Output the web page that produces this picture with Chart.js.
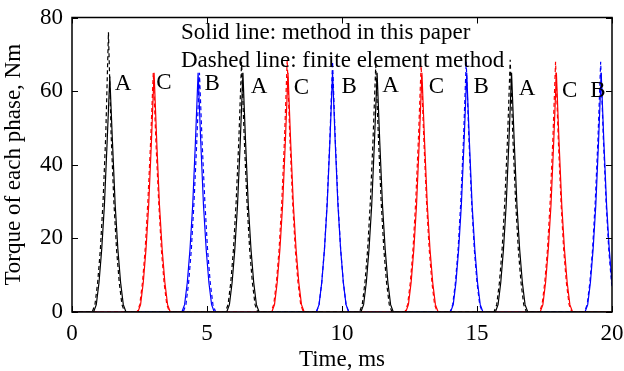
<!DOCTYPE html>
<html>
<head>
    <title>Torque of each phase</title>
    <style>
        body { margin: 0; background: white; }
        #wrap { width: 624px; height: 371px; }
    </style>
</head>
<body>
    <div id="wrap"><canvas id="chart"></canvas></div>
    <script src="https://cdn.jsdelivr.net/npm/chart.js"></script>
    <script>
        // Data: [time ms, torque Nm]
        const aSolid = [[0,0],
            [0.8,0],[0.9,2],[1.0,8],[1.1,17],[1.2,29],[1.3,46],[1.4,64],[1.5,46],[1.6,29],[1.7,17],[1.8,8],[1.9,2],[2.0,0],
            [5.73,0],[5.83,2],[5.93,8],[6.03,17],[6.13,29],[6.23,46],[6.33,65],[6.43,46],[6.53,29],[6.63,17],[6.73,8],[6.83,2],[6.93,0],
            [10.7,0],[10.8,2],[10.9,8],[11.0,17],[11.1,29],[11.2,46],[11.3,65],[11.4,46],[11.5,29],[11.6,17],[11.7,8],[11.8,2],[11.9,0],
            [15.68,0],[15.78,2],[15.88,8],[15.98,17],[16.08,29],[16.18,46],[16.28,65],[16.38,46],[16.48,29],[16.58,17],[16.68,8],[16.78,2],[16.88,0],
            [20,0]];
        const aDashed = [[0,0],
            [0.75,0],[0.85,2],[0.95,8],[1.05,17],[1.15,30],[1.25,48],[1.35,76],[1.45,48],[1.55,30],[1.65,17],[1.75,8],[1.85,2],[1.95,0],
            [5.68,0],[5.78,2],[5.88,8],[5.98,17],[6.08,30],[6.18,47],[6.28,68],[6.38,47],[6.48,30],[6.58,17],[6.68,8],[6.78,2],[6.88,0],
            [10.65,0],[10.75,2],[10.85,8],[10.95,17],[11.05,30],[11.15,47],[11.25,67],[11.35,47],[11.45,30],[11.55,17],[11.65,8],[11.75,2],[11.85,0],
            [15.63,0],[15.73,2],[15.83,8],[15.93,17],[16.03,30],[16.13,47],[16.23,68.5],[16.33,47],[16.43,30],[16.53,17],[16.63,8],[16.73,2],[16.83,0],
            [20,0]];
        const cSolid = [[0,0],
            [2.44,0],[2.54,2],[2.64,8],[2.74,17],[2.84,29],[2.94,46],[3.04,65],[3.14,46],[3.24,29],[3.34,17],[3.44,8],[3.54,2],[3.64,0],
            [7.4,0],[7.5,2],[7.6,8],[7.7,17],[7.8,29],[7.9,46],[8.0,65],[8.1,46],[8.2,29],[8.3,17],[8.4,8],[8.5,2],[8.6,0],
            [12.36,0],[12.46,2],[12.56,8],[12.66,17],[12.76,29],[12.86,46],[12.96,65],[13.06,46],[13.16,29],[13.26,17],[13.36,8],[13.46,2],[13.56,0],
            [17.34,0],[17.44,2],[17.54,8],[17.64,17],[17.74,29],[17.84,46],[17.94,65],[18.04,46],[18.14,29],[18.24,17],[18.34,8],[18.44,2],[18.54,0],
            [20,0]];
        const cDashed = [[0,0],
            [2.41,0],[2.51,2],[2.61,8],[2.71,17],[2.81,30],[2.91,46],[3.01,65],[3.11,46],[3.21,30],[3.31,17],[3.41,8],[3.51,2],[3.61,0],
            [7.37,0],[7.47,2],[7.57,8],[7.67,17],[7.77,30],[7.87,47],[7.97,68.5],[8.07,47],[8.17,30],[8.27,17],[8.37,8],[8.47,2],[8.57,0],
            [12.33,0],[12.43,2],[12.53,8],[12.63,17],[12.73,30],[12.83,47],[12.93,67],[13.03,47],[13.13,30],[13.23,17],[13.33,8],[13.43,2],[13.53,0],
            [17.31,0],[17.41,2],[17.51,8],[17.61,17],[17.71,30],[17.81,47],[17.91,68],[18.01,47],[18.11,30],[18.21,17],[18.31,8],[18.41,2],[18.51,0],
            [20,0]];
        const bSolid = [[0,0],
            [4.07,0],[4.17,2],[4.27,8],[4.37,17],[4.47,29],[4.57,46],[4.67,65],[4.77,46],[4.87,29],[4.97,17],[5.07,8],[5.17,2],[5.27,0],
            [9.05,0],[9.15,2],[9.25,8],[9.35,17],[9.45,29],[9.55,46],[9.65,65],[9.75,46],[9.85,29],[9.95,17],[10.05,8],[10.15,2],[10.25,0],
            [14.02,0],[14.12,2],[14.22,8],[14.32,17],[14.42,29],[14.52,46],[14.62,65],[14.72,46],[14.82,29],[14.92,17],[15.02,8],[15.12,2],[15.22,0],
            [19.0,0],[19.1,2],[19.2,8],[19.3,17],[19.4,29],[19.5,46],[19.6,65],[19.7,46],[19.8,29],[19.9,17],[20.0,8]];
        const bDashed = [[0,0],
            [4.12,0],[4.22,2],[4.32,8],[4.42,17],[4.52,30],[4.62,46],[4.72,65],[4.82,46],[4.92,30],[5.02,17],[5.12,8],[5.22,2],[5.32,0],
            [9.05,0],[9.15,2],[9.25,8],[9.35,17],[9.45,30],[9.55,47],[9.65,68],[9.75,47],[9.85,30],[9.95,17],[10.05,8],[10.15,2],[10.25,0],
            [14.0,0],[14.1,2],[14.2,8],[14.3,17],[14.4,30],[14.5,47],[14.6,68],[14.7,47],[14.8,30],[14.9,17],[15.0,8],[15.1,2],[15.2,0],
            [18.98,0],[19.08,2],[19.18,8],[19.28,17],[19.38,30],[19.48,47],[19.58,68],[19.68,47],[19.78,30],[19.88,17],[19.98,8],[20,7]];

        // phase labels next to the peaks
        const phaseText = ['A', 'C', 'B', 'A', 'C', 'B', 'A', 'C', 'B', 'A', 'C', 'B'];
        const phaseX = [1.89, 3.4, 5.19, 6.93, 8.5, 10.27, 11.8, 13.5, 15.15, 16.85, 18.43, 19.48];
        const phaseY = [62.3, 62.5, 62.3, 61.5, 61.2, 61.6, 61.9, 61.4, 61.5, 61.1, 60.4, 60.5];

        const noteLines = ['Solid line: method in this paper', 'Dashed line: finite element method'];
        const xTicks = [0, 5, 10, 15, 20];
        const yTicks = [0, 20, 40, 60, 80];

        const FONT = '"Liberation Serif", "Times New Roman", serif';
        const toXY = arr => arr.map(p => ({ x: p[0], y: p[1] }));

        function series(data, color, dashed) {
            return {
                data: toXY(data),
                borderColor: color,
                borderWidth: 1.2,
                borderDash: dashed ? [4, 3] : [],
                pointRadius: 0,
                tension: 0,
                fill: false
            };
        }

        // frame, inward ticks on all four sides, phase letters and the note
        const decor = {
            id: 'decor',
            afterDatasetsDraw(chart) {
                const { ctx, chartArea: a, scales: { x, y } } = chart;
                ctx.save();
                ctx.strokeStyle = '#000';
                ctx.lineWidth = 1.5;
                ctx.strokeRect(a.left, a.top, a.right - a.left, a.bottom - a.top);
                ctx.lineWidth = 1;
                ctx.beginPath();
                xTicks.forEach(v => {
                    const px = Math.round(x.getPixelForValue(v)) + 0.5;
                    ctx.moveTo(px, a.bottom); ctx.lineTo(px, a.bottom - 6);
                    ctx.moveTo(px, a.top); ctx.lineTo(px, a.top + 6);
                });
                yTicks.forEach(v => {
                    const py = Math.round(y.getPixelForValue(v)) + 0.5;
                    ctx.moveTo(a.left, py); ctx.lineTo(a.left + 6, py);
                    ctx.moveTo(a.right, py); ctx.lineTo(a.right - 6, py);
                });
                ctx.stroke();

                ctx.fillStyle = '#000';
                ctx.font = '23px ' + FONT;
                ctx.textAlign = 'center';
                ctx.textBaseline = 'alphabetic';
                phaseText.forEach((t, i) => {
                    ctx.fillText(t, x.getPixelForValue(phaseX[i]), y.getPixelForValue(phaseY[i]) + 7.5);
                });
                ctx.textAlign = 'left';
                ctx.fillText(noteLines[0], 181, 39);
                ctx.fillText(noteLines[1], 181, 67);
                ctx.restore();
            }
        };

        const ctx = document.getElementById('chart').getContext('2d');
        new Chart(ctx, {
            type: 'line',
            data: {
                datasets: [
                    series(aSolid, '#000000', false),
                    series(aDashed, '#000000', true),
                    series(cSolid, '#ff0000', false),
                    series(cDashed, '#ff0000', true),
                    series(bSolid, '#0000ff', false),
                    series(bDashed, '#0000ff', true)
                ]
            },
            options: {
                responsive: true,
                maintainAspectRatio: false,
                animation: false,
                layout: { padding: { top: 17.5, right: 12, left: 0, bottom: 0 } },
                plugins: { legend: { display: false }, tooltip: { enabled: false } },
                scales: {
                    x: {
                        type: 'linear',
                        min: 0, max: 20,
                        afterBuildTicks: s => { s.ticks = xTicks.map(v => ({ value: v })); },
                        afterFit: s => { s.height = 59; s.paddingLeft = 0; s.paddingRight = 0; },
                        grid: { display: false, drawTicks: false },
                        border: { display: false },
                        ticks: { color: '#000', font: { family: FONT, size: 23 }, padding: 8, maxRotation: 0 },
                        title: { display: true, text: 'Time, ms', color: '#000', font: { family: FONT, size: 23 }, padding: { top: 0, bottom: -3 } }
                    },
                    y: {
                        type: 'linear',
                        min: 0, max: 80,
                        afterBuildTicks: s => { s.ticks = yTicks.map(v => ({ value: v })); },
                        afterFit: s => { s.width = 72; s.paddingTop = 0; s.paddingBottom = 0; },
                        grid: { display: false, drawTicks: false },
                        border: { display: false },
                        ticks: { color: '#000', font: { family: FONT, size: 23 }, padding: 9 },
                        title: { display: true, text: 'Torque of each phase, Nm', color: '#000', font: { family: FONT, size: 23 }, padding: { top: 0, bottom: 0 } }
                    }
                }
            },
            plugins: [decor]
        });
    </script>
</body>
</html>
